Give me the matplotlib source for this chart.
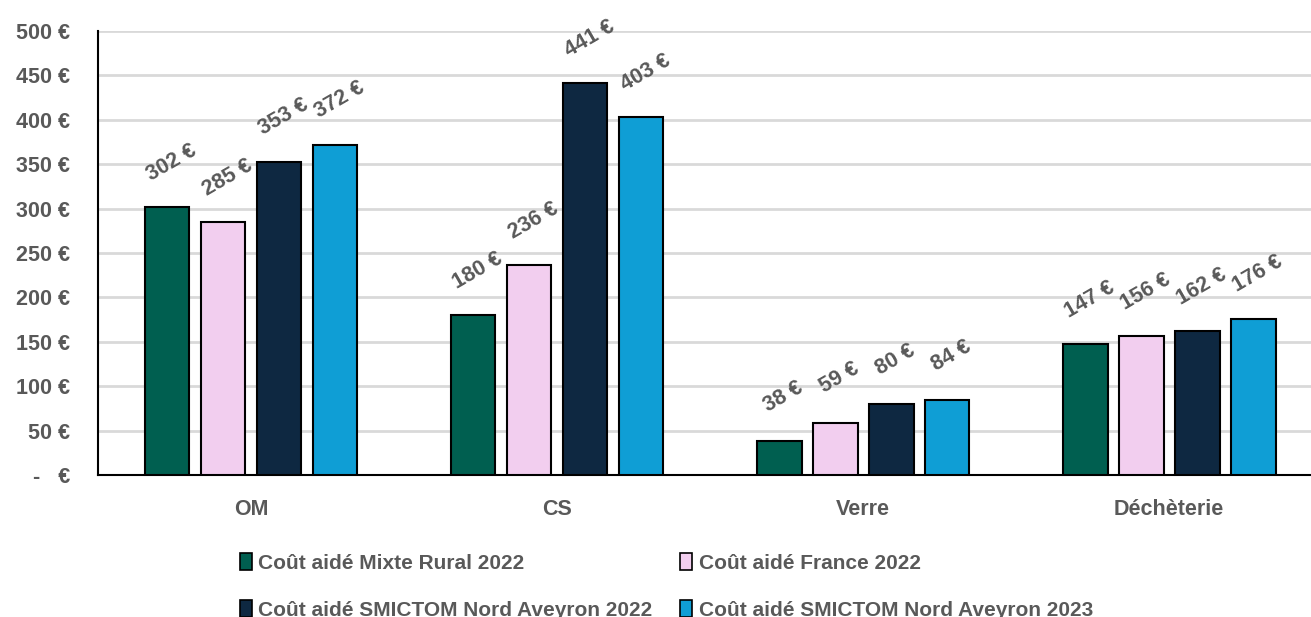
import matplotlib
matplotlib.use("Agg")
import matplotlib.pyplot as plt
import numpy as np
from matplotlib.patches import Patch

categories = ["OM", "CS", "Verre", "Déchèterie"]
series_names = ["Coût aidé Mixte Rural 2022", "Coût aidé France 2022",
                "Coût aidé SMICTOM Nord Aveyron 2022", "Coût aidé SMICTOM Nord Aveyron 2023"]
mixte_rural_2022 = [302, 180, 38, 147]
france_2022 = [285, 236, 59, 156]
smictom_2022 = [353, 441, 80, 162]
smictom_2023 = [372, 403, 84, 176]
yticks = [0, 50, 100, 150, 200, 250, 300, 350, 400, 450, 500]

colors = ["#005F50", "#F2CEEF", "#0E2841", "#0F9ED5"]
series = [mixte_rural_2022, france_2022, smictom_2022, smictom_2023]

FONT = ["Liberation Sans", "DejaVu Sans"]
GREY = "#595959"

fig = plt.figure(figsize=(13.11, 6.17), dpi=100)
ax = fig.add_axes([98/1311, 1-475/617, (1311-98)/1311, 444/617])

x = np.arange(len(categories))
pitch = 0.183
width = 0.147
for i, (vals, c) in enumerate(zip(series, colors)):
    pos = x + (i - 1.5) * pitch
    ax.bar(pos, vals, width=width, color=c, edgecolor="black", linewidth=1.5, zorder=3)
    for px, v in zip(pos, vals):
        ax.annotate(f"{v} €", (px, v), xytext=(3, 32), textcoords="offset points",
                    ha="center", va="center", rotation=30, fontsize=15.5,
                    fontweight="bold", color=GREY, family=FONT, zorder=4)

ax.set_ylim(0, 500)
ax.set_xlim(-0.5, 3.464)
ax.set_yticks(yticks)
ax.set_yticklabels([f"{v} €" if v else "-   €" for v in yticks])
ax.set_xticks(x)
ax.set_xticklabels(categories)
for lab in ax.get_yticklabels() + ax.get_xticklabels():
    lab.set_family(FONT)
    lab.set_fontweight("bold")
    lab.set_color(GREY)
    lab.set_fontsize(15.5)
ax.tick_params(axis="y", length=0, pad=20)
ax.tick_params(axis="x", length=0, pad=17)
ax.grid(axis="y", color="#D9D9D9", linewidth=2, zorder=0)
ax.set_axisbelow(True)
for s in ["top", "right"]:
    ax.spines[s].set_visible(False)
ax.spines["left"].set_linewidth(1.5)
ax.spines["bottom"].set_linewidth(1.5)

handles = [Patch(facecolor=c, edgecolor="black", linewidth=1.2) for c in colors]
order = [0, 2, 1, 3]
leg = fig.legend([handles[i] for i in order], [series_names[i] for i in order],
                 ncol=2, loc="upper left", bbox_to_anchor=(221/1311, 1-534/617),
                 frameon=False, handlelength=0.6, handleheight=0.9, handletextpad=0.3,
                 columnspacing=1.3, labelspacing=1.3,
                 prop={"family": FONT, "weight": "bold", "size": 15})
for t in leg.get_texts():
    t.set_color(GREY)

fig.savefig("out.png", dpi=100)
